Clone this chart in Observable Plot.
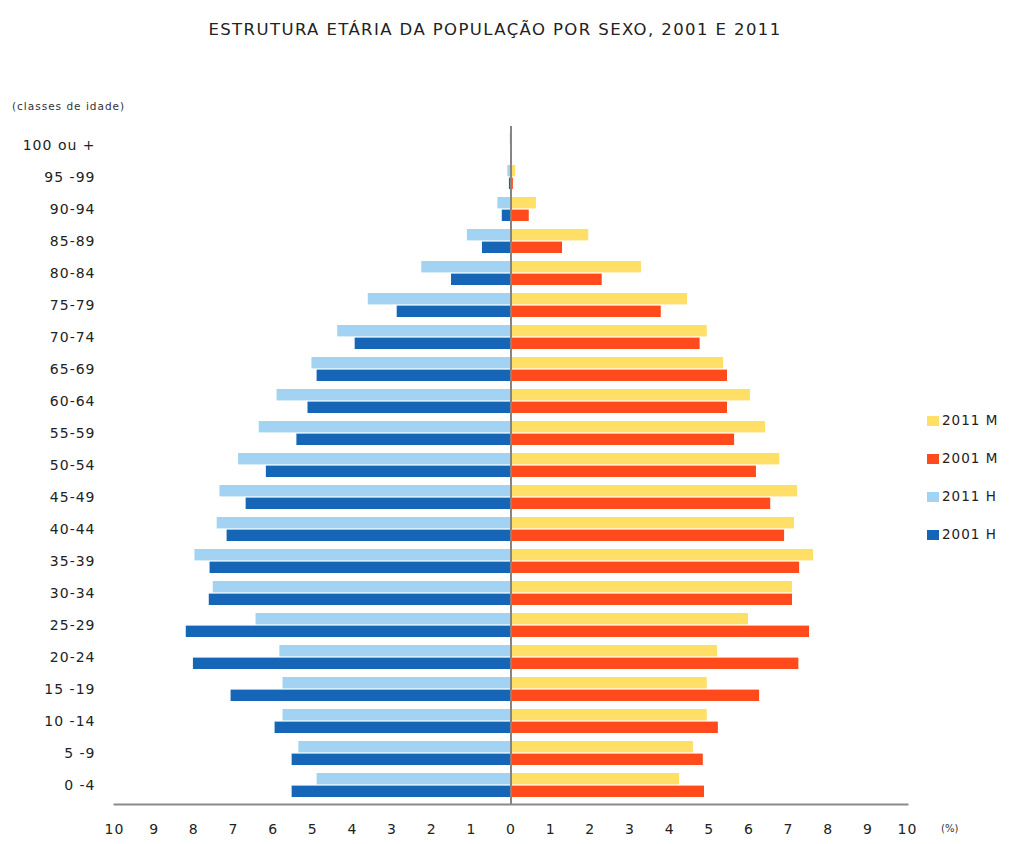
<!DOCTYPE html>
<html>
<head>
<meta charset="utf-8">
<script src="https://cdn.jsdelivr.net/npm/d3@7"></script>
<script src="https://cdn.jsdelivr.net/npm/@observablehq/plot@0.6"></script>
<style>
  html, body { margin: 0; padding: 0; background: #fff; }
  #wrap { position: relative; width: 1016px; height: 844px; overflow: hidden; font-family: "DejaVu Sans", sans-serif; color: #222; }
  #chart { position: absolute; left: 0; top: 0; }
  #chart svg text { letter-spacing: 1px; }
  .title { position: absolute; top: 20px; left: 0; width: 990px; text-align: center; font-size: 16.5px; letter-spacing: 1.4px; color: #222; }
  .ylab { position: absolute; left: 12px; top: 100px; font-size: 10.5px; letter-spacing: 1px; color: #333; }
  .unit { position: absolute; left: 941px; top: 823px; font-size: 10px; color: #333; }
  .legend { position: absolute; left: 927px; top: 412px; font-size: 13.5px; letter-spacing: 1px; color: #222; }
  .legend div { height: 38px; display: flex; align-items: flex-start; }
  .legend span.sw { display: inline-block; width: 12px; height: 10px; margin-right: 3px; margin-top: 4px; }
</style>
</head>
<body>
<div id="wrap">
  <div id="chart"></div>
  <div class="title">ESTRUTURA ETÁRIA DA POPULAÇÃO POR SEXO, 2001 E 2011</div>
  <div class="ylab">(classes de idade)</div>
  <div class="unit">(%)</div>
  <div class="legend" id="legend"></div>
</div>
<script>
// Age classes, top to bottom
const ages = ["100 ou +","95 -99","90-94","85-89","80-84","75-79","70-74","65-69","60-64","55-59","50-54","45-49","40-44","35-39","30-34","25-29","20-24","15 -19","10 -14","5 -9","0 -4"];
// Men (H), % of population
const men2011 = [0.02,0.08,0.33,1.10,2.25,3.60,4.37,5.02,5.90,6.35,6.87,7.34,7.41,7.97,7.51,6.43,5.83,5.75,5.75,5.35,4.89];
const men2001 = [0.01,0.04,0.22,0.72,1.50,2.87,3.93,4.89,5.12,5.40,6.17,6.68,7.16,7.59,7.61,8.19,8.01,7.06,5.95,5.52,5.52];
// Women (M), % of population
const women2011 = [0.03,0.12,0.64,1.96,3.29,4.45,4.95,5.36,6.04,6.42,6.78,7.23,7.15,7.63,7.10,5.99,5.21,4.95,4.95,4.60,4.25];
const women2001 = [0.01,0.06,0.46,1.30,2.30,3.79,4.77,5.46,5.46,5.64,6.19,6.55,6.90,7.28,7.10,7.53,7.26,6.27,5.23,4.85,4.88];
// Legend / series
const seriesNames = ["2011 M","2001 M","2011 H","2001 H"];
const seriesColors = ["#FFDF66","#FF4A1C","#A2D3F3","#1666B8"];
// x tick labels
const xTicks = [-10,-9,-8,-7,-6,-5,-4,-3,-2,-1,0,1,2,3,4,5,6,7,8,9,10];

const d2011 = ages.flatMap((a, i) => [
  {age: a, series: "2011 H", v: -men2011[i]},
  {age: a, series: "2011 M", v: women2011[i]}
]);
const d2001 = ages.flatMap((a, i) => [
  {age: a, series: "2001 H", v: -men2001[i]},
  {age: a, series: "2001 M", v: women2001[i]}
]);

const H = 844, W = 1016;
const topY = 126, botY = 804;
const step = (botY - topY) / ages.length;
const bw = step * 0.75;
const half = bw / 2 + 0.5;

const chart = Plot.plot({
  width: W,
  height: H,
  marginLeft: 114,
  marginRight: 109,
  marginTop: topY,
  marginBottom: H - botY,
  style: {fontFamily: "DejaVu Sans, sans-serif", fontSize: "14px", color: "#222", background: "#fff"},
  x: {domain: [-10, 10]},
  y: {domain: ages, paddingInner: 0.25, paddingOuter: 0.125},
  color: {domain: seriesNames, range: seriesColors},
  marks: [
    Plot.barX(d2011, {y: "age", x: "v", fill: "series", insetBottom: half, insetTop: 0}),
    Plot.barX(d2001, {y: "age", x: "v", fill: "series", insetTop: half, insetBottom: 0}),
    Plot.ruleX([0], {stroke: "#858585", strokeWidth: 2}),
    Plot.frame({anchor: "bottom", stroke: "#8a8a8a", strokeWidth: 2}),
    Plot.axisY({tickSize: 0, tickPadding: 19, label: null, fontSize: 14}),
    Plot.axisX({ticks: xTicks, tickFormat: d => Math.abs(d), tickSize: 0, tickPadding: 20, label: null, fontSize: 14})
  ]
});
document.getElementById("chart").appendChild(chart);

const leg = document.getElementById("legend");
seriesNames.forEach((s, i) => {
  const row = document.createElement("div");
  const sw = document.createElement("span");
  sw.className = "sw";
  sw.style.background = seriesColors[i];
  const t = document.createElement("span");
  t.textContent = s;
  row.appendChild(sw);
  row.appendChild(t);
  leg.appendChild(row);
});
</script>
</body>
</html>
